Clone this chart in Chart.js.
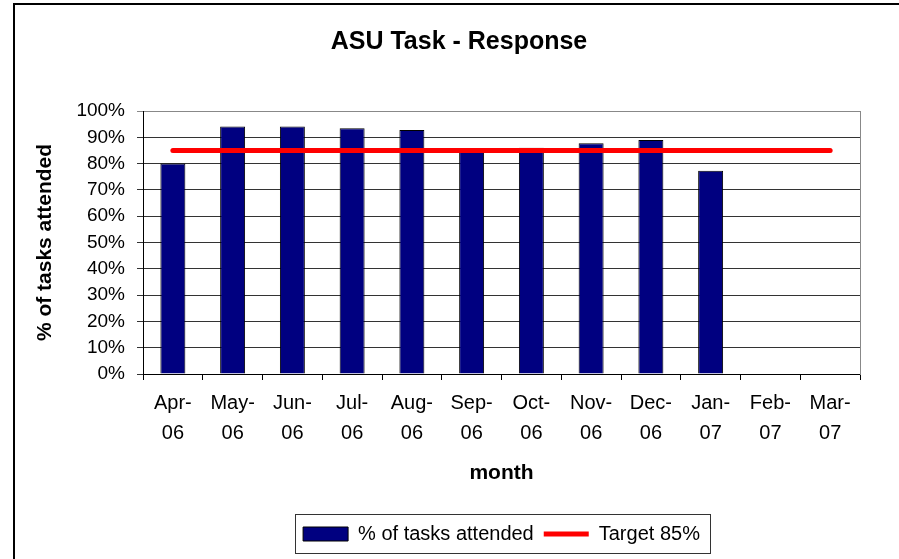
<!DOCTYPE html>
<html>
<head>
<meta charset="utf-8">
<script src="https://cdn.jsdelivr.net/npm/chart.js@4.4.1/dist/chart.umd.min.js"></script>
<style>
  html, body { margin: 0; padding: 0; background: #fff; }
  canvas { display: block; }
</style>
</head>
<body>
<canvas id="c" width="899" height="559"></canvas>
<script>
// ---- data ----
const months = [["Apr-","06"],["May-","06"],["Jun-","06"],["Jul-","06"],["Aug-","06"],["Sep-","06"],
                ["Oct-","06"],["Nov-","06"],["Dec-","06"],["Jan-","07"],["Feb-","07"],["Mar-","07"]];
const attended = [80, 94.1, 94.1, 93.4, 92.8, 85, 86, 87.7, 89, 77.3, null, null];
const target = [85, 85, 85, 85, 85, 85, 85, 85, 85, 85, 85, 85];
const yTicks = [0, 10, 20, 30, 40, 50, 60, 70, 80, 90, 100];
const chartTitle = "ASU Task - Response";
const yTitle = "% of tasks attended";
const xTitle = "month";
const seriesNames = ["% of tasks attended", "Target 85%"];

Chart.defaults.font.family = '"Liberation Sans", Arial, Helvetica, sans-serif';
Chart.defaults.color = '#000';

const frame = {
  id: 'frame',
  beforeDraw(chart) {
    const ctx = chart.ctx;
    ctx.save();
    ctx.fillStyle = '#fff';
    ctx.fillRect(0, 0, chart.width, chart.height);
    ctx.fillStyle = '#000';
    ctx.fillRect(13, 3, 2, chart.height);
    ctx.fillRect(13, 3, chart.width, 2);
    ctx.restore();
  },
  afterDraw(chart) {
    const lg = chart.legend;
    if (!lg || !lg.legendHitBoxes || !lg.legendHitBoxes.length) return;
    const hb = lg.legendHitBoxes;
    const first = hb[0], last = hb[hb.length - 1];
    const ctx = chart.ctx;
    ctx.save();
    ctx.strokeStyle = '#333';
    ctx.lineWidth = 1;
    const l = Math.round(first.left - 8) + 0.5;
    const r = Math.round(last.left + last.width + 10) + 0.5;
    const t = Math.round(lg.top) + 0.5;
    const b = Math.round(lg.bottom) - 0.5;
    ctx.strokeRect(l, t, r - l, b - t);
    ctx.restore();
  }
};

new Chart(document.getElementById('c'), {
  data: {
    labels: months,
    datasets: [
      {
        type: 'bar',
        label: seriesNames[0],
        data: attended,
        backgroundColor: '#000080',
        borderColor: '#000',
        borderWidth: 1,
        barPercentage: 0.418,
        categoryPercentage: 1.0,
        order: 1
      },
      {
        type: 'line',
        label: seriesNames[1],
        data: target,
        borderColor: '#FF0000',
        backgroundColor: '#FF0000',
        borderWidth: 5,
        borderCapStyle: 'round',
        pointRadius: 0,
        pointHoverRadius: 0,
        fill: false,
        order: 0
      }
    ]
  },
  plugins: [frame],
  options: {
    responsive: false,
    animation: false,
    devicePixelRatio: 1,
    layout: { padding: { left: 19, right: 0, top: 0, bottom: 5 } },
    plugins: {
      title: {
        display: true,
        text: chartTitle,
        font: { size: 25, weight: 'bold' },
        color: '#000',
        padding: { top: 27, bottom: 54 }
      },
      legend: {
        display: true,
        position: 'bottom',
        fullSize: false,
        labels: {
          usePointStyle: true,
          pointStyleWidth: 45,
          boxHeight: 14,
          padding: 10,
          color: '#000',
          font: { size: 20 },
          generateLabels(chart) {
            return [
              { text: seriesNames[0], fillStyle: '#000080', strokeStyle: '#000', lineWidth: 1,
                pointStyle: 'rect', datasetIndex: 0, hidden: false, fontColor: '#000' },
              { text: seriesNames[1], fillStyle: '#FF0000', strokeStyle: '#FF0000', lineWidth: 5,
                lineCap: 'butt', pointStyle: 'line', datasetIndex: 1, hidden: false, fontColor: '#000' }
            ];
          }
        }
      },
      tooltip: { enabled: false }
    },
    scales: {
      x: {
        type: 'category',
        offset: true,
        grid: {
          display: true,
          offset: true,
          drawOnChartArea: false,
          drawTicks: true,
          tickLength: 6,
          color: '#000'
        },
        border: { display: true, color: '#000', width: 1 },
        ticks: {
          autoSkip: false,
          maxRotation: 0,
          minRotation: 0,
          padding: 8,
          color: '#000',
          font: { size: 20, lineHeight: 1.5 }
        },
        title: {
          display: true,
          text: xTitle,
          color: '#000',
          font: { size: 21, weight: 'bold' },
          padding: { top: 0, bottom: 28 }
        },
        afterFit(scale) { scale.height = 140; }
      },
      y: {
        type: 'linear',
        position: 'left',
        min: 0,
        max: 100,
        afterBuildTicks(scale) { scale.ticks = yTicks.map(v => ({ value: v })); },
        grid: {
          color: (c) => (c.tick && c.tick.value === 100) ? '#888' : '#333',
          lineWidth: 1,
          drawTicks: true,
          tickLength: 6
        },
        border: { display: true, color: '#000', width: 1 },
        ticks: {
          padding: 12,
          color: '#000',
          font: { size: 19 },
          callback: (v) => v + '%'
        },
        title: {
          display: true,
          text: yTitle,
          color: '#000',
          font: { size: 21, weight: 'bold' },
          padding: { top: 14, bottom: 0 }
        },
        afterFit(scale) { scale.width = 124; }
      },
      y2: {
        type: 'linear',
        position: 'right',
        min: 0,
        max: 100,
        grid: { drawOnChartArea: false, drawTicks: false },
        border: { display: true, color: '#888', width: 1 },
        ticks: { display: false },
        afterFit(scale) { scale.width = 39; }
      }
    }
  }
});
</script>
</body>
</html>
